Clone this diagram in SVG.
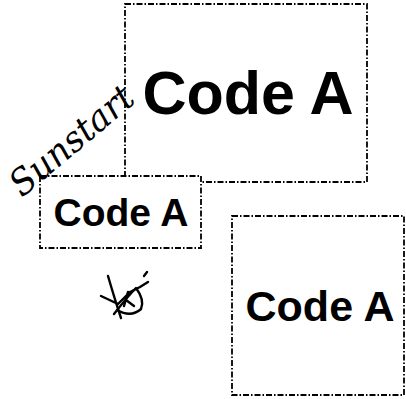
<svg xmlns="http://www.w3.org/2000/svg" width="406" height="399" viewBox="0 0 406 399">
<style>
.box{fill:#fff;stroke:#000;stroke-width:1.8;stroke-dasharray:6 2 1.5 2}
.lbl{font-family:"Liberation Sans",Arial,sans-serif;font-weight:bold;fill:#000;text-anchor:middle}
.sig{font-family:"DejaVu Serif","Liberation Serif",serif;font-style:italic;fill:#000}
</style>
<rect width="406" height="399" fill="#fff"/>
<g id="node-big">
<rect class="box" x="125" y="4" width="242" height="178"/>
<text class="lbl" x="248" y="114" font-size="61">Code A</text>
</g>
<g id="node-small">
<rect class="box" x="40" y="176" width="161" height="72"/>
<text class="lbl" x="121" y="226" font-size="39">Code A</text>
</g>
<g id="node-right">
<rect class="box" x="232" y="216" width="172" height="179"/>
<text class="lbl" x="320" y="321" font-size="43">Code A</text>
</g>
<g id="connectors"></g>
<g id="signature">
<text class="sig" x="22" y="198" font-size="36" transform="rotate(-40 22 198)" textLength="150" lengthAdjust="spacingAndGlyphs">Sunstart</text>
</g>
<g id="initials" fill="none" stroke="#000" stroke-width="2.4" stroke-linecap="round" stroke-linejoin="round">
<path d="M108 276 Q115 300 121 318"/>
<path d="M101 296 L118 304 L130 292 L140 287 L148 282"/>
<path d="M114 314 Q128 296 136 288 Q145 300 141 309 Q131 318 117 310"/>
<path d="M126 300 L134 306 M128 292 L124 306 M144 276 L147 272"/>
</g>
</svg>
